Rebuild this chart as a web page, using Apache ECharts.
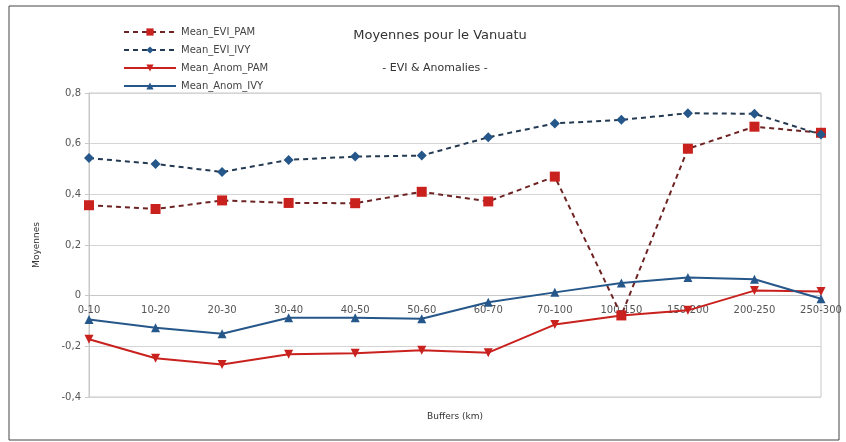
<!DOCTYPE html>
<html>
<head>
<meta charset="utf-8">
<title>Moyennes pour le Vanuatu</title>
<script src="https://cdn.jsdelivr.net/npm/echarts@6/dist/echarts.min.js"></script>
<style>
  html, body { margin: 0; padding: 0; background: #fff; }
  #chart { width: 846px; height: 442px; }
</style>
</head>
<body>
<div id="chart"></div>
<script>
// buffers distance classes (km)
const buffers = ['0-10', '10-20', '20-30', '30-40', '40-50', '50-60', '60-70', '70-100', '100-150', '150-200', '200-250', '250-300'];

// values
const meanEviPam = [0.357, 0.342, 0.376, 0.366, 0.365, 0.41, 0.372, 0.47, -0.078, 0.58, 0.667, 0.643];
const meanEviIvy = [0.543, 0.52, 0.488, 0.536, 0.549, 0.553, 0.625, 0.68, 0.694, 0.72, 0.718, 0.636];
const meanAnomPam = [-0.172, -0.247, -0.272, -0.231, -0.227, -0.215, -0.225, -0.114, -0.078, -0.058, 0.02, 0.016];
const meanAnomIvy = [-0.094, -0.127, -0.15, -0.087, -0.087, -0.091, -0.026, 0.013, 0.05, 0.072, 0.065, -0.012];

const yTicks = { min: -0.4, max: 0.8, step: 0.2 };

const RED = '#c9211e';
const BLUE = '#26578a';

const gridTop = 93, gridBottom = 45, chartH = 442;
// the x axis sits on the zero line, so shift it up from the bottom of the grid
const plotH = chartH - gridTop - gridBottom;
const zeroShift = plotH * (0 - yTicks.min) / (yTicks.max - yTicks.min);

const chart = echarts.init(document.getElementById('chart'));

const line = (name, data, color, lineColor, dashed, symbol, size, rotate) => ({
  name: name,
  type: 'line',
  data: data,
  symbol: symbol,
  symbolSize: size,
  symbolRotate: rotate || 0,
  showAllSymbol: true,
  itemStyle: { color: color },
  lineStyle: { color: lineColor, width: 2, type: dashed ? [5, 4] : 'solid' },
  emphasis: { disabled: true },
  animation: false
});

const option = {
  backgroundColor: '#fff',
  textStyle: { fontFamily: 'DejaVu Sans, Liberation Sans, sans-serif' },
  title: [{
    text: 'Moyennes pour le Vanuatu',
    left: 435,
    top: 24,
    textAlign: 'center',
    textStyle: { fontSize: 13, fontWeight: 'normal', color: '#333' }
  }, {
    text: '- EVI & Anomalies -',
    left: 430,
    top: 58,
    textAlign: 'center',
    textStyle: { fontSize: 11, fontWeight: 'normal', color: '#333' }
  }],
  legend: {
    orient: 'vertical',
    left: 118,
    top: 22,
    itemWidth: 52,
    itemHeight: 9,
    itemGap: 8,
    textStyle: { fontSize: 10, color: '#444' },
    data: ['Mean_EVI_PAM', 'Mean_EVI_IVY', 'Mean_Anom_PAM', 'Mean_Anom_IVY']
  },
  grid: {
    left: 89,
    right: 25,
    top: gridTop,
    bottom: gridBottom,
    outerBoundsMode: 'none',
    containLabel: false,
    show: true,
    borderColor: '#c8c8c8',
    borderWidth: 1
  },
  xAxis: {
    type: 'category',
    data: buffers,
    boundaryGap: false,
    offset: -zeroShift,
    name: 'Buffers (km)',
    nameLocation: 'middle',
    nameGap: 116,
    nameTextStyle: { fontSize: 9, color: '#333' },
    axisLine: { onZero: false, lineStyle: { color: '#c8c8c8' } },
    axisTick: { show: false },
    axisLabel: { fontSize: 10, color: '#555', margin: 10, interval: 0 },
    splitLine: { show: false }
  },
  yAxis: {
    type: 'value',
    min: yTicks.min,
    max: yTicks.max,
    interval: yTicks.step,
    name: 'Moyennes',
    nameLocation: 'middle',
    nameGap: 48,
    nameTextStyle: { fontSize: 9, color: '#333' },
    axisLine: { show: true, lineStyle: { color: '#c8c8c8' } },
    axisTick: { show: true, length: 4, lineStyle: { color: '#c8c8c8' } },
    axisLabel: {
      fontSize: 10,
      color: '#555',
      margin: 8,
      formatter: v => String(Math.round(v * 10) / 10).replace('.', ',')
    },
    splitLine: { lineStyle: { color: '#d4d4d4' } }
  },
  series: [
    line('Mean_EVI_PAM', meanEviPam, RED, '#6e2424', true, 'rect', 10),
    line('Mean_EVI_IVY', meanEviIvy, BLUE, '#233a52', true, 'diamond', 10),
    line('Mean_Anom_PAM', meanAnomPam, RED, RED, false, 'triangle', 9, 180),
    line('Mean_Anom_IVY', meanAnomIvy, BLUE, BLUE, false, 'triangle', 9)
  ],
  graphic: [{
    type: 'rect',
    shape: { x: 9, y: 6, width: 830, height: 434 },
    style: { fill: 'none', stroke: '#444', lineWidth: 1 },
    silent: true
  }]
};

chart.setOption(option);
window.addEventListener('resize', () => chart.resize());
</script>
</body>
</html>
